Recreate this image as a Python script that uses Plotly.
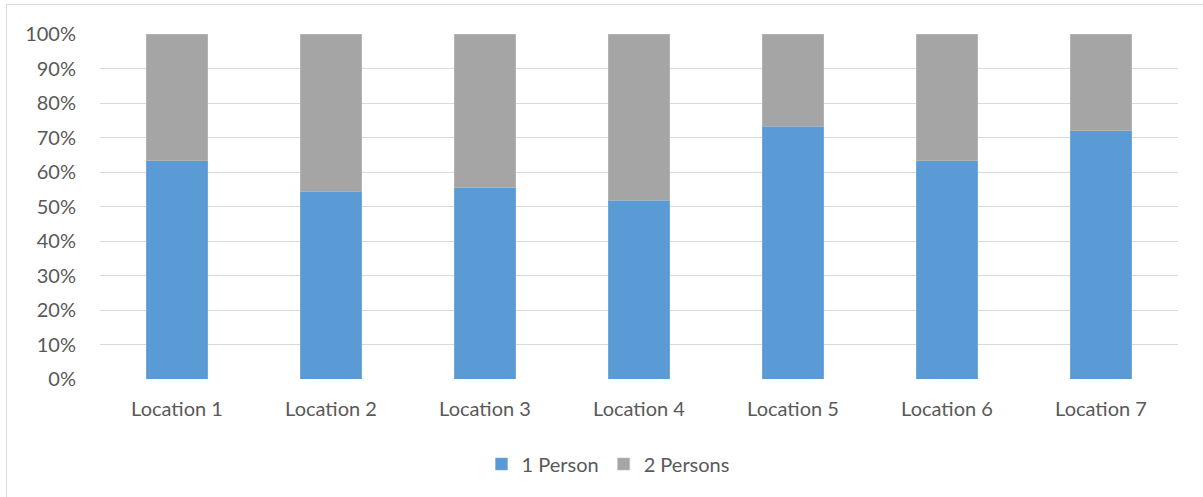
import plotly.graph_objects as go

# Share of groups by party size at each location
locations = ["Location 1", "Location 2", "Location 3", "Location 4",
             "Location 5", "Location 6", "Location 7"]
one_person = [0.633, 0.544, 0.555, 0.518, 0.733, 0.633, 0.720]
two_persons = [1 - v for v in one_person]

tick_vals = [i / 10 for i in range(11)]
tick_text = [f"{i * 10}%" for i in range(11)]

W, H = 1203, 497
ML, MR, MT, MB = 100, 25, 34, 118
FONT = "Lato, 'Open Sans', sans-serif"
TEXT = "#595959"
FS = 20

fig = go.Figure()
fig.add_bar(x=locations, y=one_person, name="1 Person",
            marker=dict(color="#5B9BD5", line=dict(color="#7FB1E0", width=0.6)))
fig.add_bar(x=locations, y=two_persons, name="2 Persons",
            marker=dict(color="#A5A5A5", line=dict(color="#BDBDBD", width=0.6)))

pw = W - ML - MR
ph = H - MT - MB

# outer chart border (left and top edges visible)
fig.add_shape(type="rect", xref="paper", yref="paper",
              x0=(6.5 - ML) / pw, x1=(W + 5 - ML) / pw,
              y0=(MT + ph - (H + 5)) / ph, y1=(MT + ph - 4.5) / ph,
              line=dict(color="#D9D9D9", width=1), layer="below")

fig.update_layout(
    width=W, height=H,
    margin=dict(l=ML, r=MR, t=MT, b=MB),
    barmode="stack", bargap=0.6,
    plot_bgcolor="white", paper_bgcolor="white",
    font=dict(family=FONT, size=FS, color=TEXT),
    showlegend=True,
    legend=dict(orientation="h", x=0.5 - 31 / pw, xanchor="center",
                y=(MT + ph - 464) / ph, yanchor="middle",
                font=dict(size=FS, color=TEXT), traceorder="normal",
                itemwidth=30, tracegroupgap=0),
    xaxis=dict(showgrid=False, showline=False, ticks="", zeroline=False,
               tickfont=dict(size=FS, color=TEXT), ticklabelstandoff=16),
    yaxis=dict(range=[0, 1], tickvals=tick_vals, ticktext=tick_text,
               showgrid=True, gridcolor="#D9D9D9", gridwidth=1,
               zeroline=False, showline=False, ticks="",
               tickfont=dict(size=FS, color=TEXT), ticklabelstandoff=23),
)

fig.write_html("out.html")
